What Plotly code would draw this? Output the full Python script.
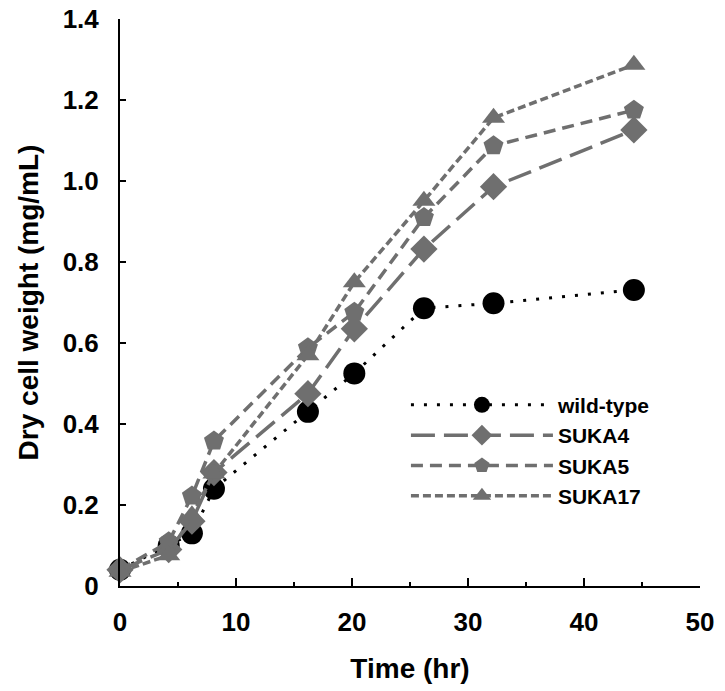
import plotly.graph_objects as go

# Data
time_hr = [0, 4.2, 6.2, 8.1, 16.2, 20.2, 26.2, 32.2, 44.3]
wild_type = [0.04, 0.10, 0.13, 0.24, 0.43, 0.525, 0.686, 0.698, 0.731]
suka4 = [0.04, 0.09, 0.16, 0.28, 0.475, 0.635, 0.832, 0.986, 1.126]
suka5 = [0.04, 0.109, 0.222, 0.358, 0.588, 0.676, 0.91, 1.087, 1.175]
suka17 = [0.035, 0.076, 0.175, 0.278, 0.57, 0.75, 0.951, 1.156, 1.287]

x_ticks = [0, 10, 20, 30, 40, 50]
y_ticks = [0, 0.2, 0.4, 0.6, 0.8, 1.0, 1.2, 1.4]
y_ticklabels = ["0", "0.2", "0.4", "0.6", "0.8", "1.0", "1.2", "1.4"]

GRAY = "#6f6f6f"
FONT = "Liberation Sans, Arial"

fig = go.Figure()

fig.add_trace(go.Scatter(
    x=time_hr, y=wild_type, name="wild-type", mode="lines+markers",
    line=dict(color="black", width=3, dash="3px,10px"),
    marker=dict(symbol="circle", size=22, color="black"),
    cliponaxis=False))
fig.add_trace(go.Scatter(
    x=time_hr, y=suka4, name="SUKA4", mode="lines+markers",
    line=dict(color=GRAY, width=3.5, dash="24px,9px"),
    marker=dict(symbol="diamond", size=21, color=GRAY),
    cliponaxis=False))
fig.add_trace(go.Scatter(
    x=time_hr, y=suka5, name="SUKA5", mode="lines+markers",
    line=dict(color=GRAY, width=3.5, dash="12px,7px"),
    marker=dict(symbol="pentagon", size=21, color=GRAY),
    cliponaxis=False))
fig.add_trace(go.Scatter(
    x=time_hr, y=suka17, name="SUKA17", mode="lines+markers",
    line=dict(color=GRAY, width=3.5, dash="8px,4px"),
    marker=dict(symbol="triangle-up", size=20, color=GRAY),
    cliponaxis=False))

fig.update_layout(
    width=725, height=691,
    margin=dict(l=120, r=25, t=19, b=105),
    paper_bgcolor="white", plot_bgcolor="white",
    font=dict(family=FONT, color="black"),
    showlegend=True,
    legend=dict(
        x=0.493, y=0.355, xanchor="left", yanchor="top",
        bgcolor="rgba(0,0,0,0)",
        font=dict(family=FONT, size=21, color="black", weight="bold"),
        itemwidth=142, tracegroupgap=0,
    ),
    xaxis=dict(
        range=[0, 50], tickvals=x_ticks, ticktext=[str(v) for v in x_ticks],
        showline=True, linecolor="black", linewidth=2,
        ticks="inside", ticklen=8, tickwidth=2, tickcolor="black",
        minor=dict(dtick=5, ticks="inside", ticklen=4, tickwidth=2, tickcolor="black"),
        showgrid=False, zeroline=False, automargin=False,
        ticklabeloverflow="allow",
        tickfont=dict(family=FONT, size=26, weight="bold"),
        ticklabelstandoff=12,
        title=dict(text="Time (hr)", font=dict(family=FONT, size=28, weight="bold"), standoff=22),
    ),
    yaxis=dict(
        range=[0, 1.4], tickvals=y_ticks, ticktext=y_ticklabels,
        showline=True, linecolor="black", linewidth=2,
        ticks="inside", ticklen=6, tickwidth=2, tickcolor="black",
        showgrid=False, zeroline=False, automargin=False,
        ticklabeloverflow="allow",
        tickfont=dict(family=FONT, size=26, weight="bold"),
        ticklabelstandoff=14,
        title=dict(text="Dry cell weight (mg/mL)", font=dict(family=FONT, size=28, weight="bold"), standoff=16),
    ),
)

# Remove the page's default body margin so the figure fills the window exactly.
fig.write_html("out.html", config={"displayModeBar": False},
               post_script="document.body.style.margin='0';")
